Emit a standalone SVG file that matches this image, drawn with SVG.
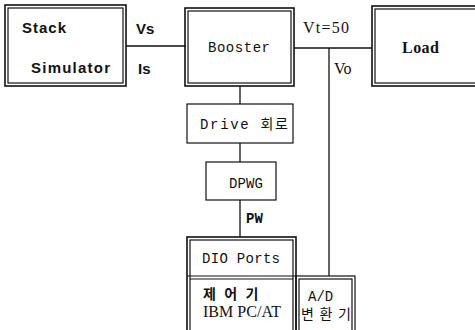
<svg xmlns="http://www.w3.org/2000/svg" width="475" height="330" viewBox="0 0 475 330">
<style>
.b{fill:none;stroke:#111;stroke-width:1.2}
.t{fill:none;stroke:#111;stroke-width:1.6}
.c{fill:none;stroke:#111;stroke-width:1.3}
.sans{font-family:"Liberation Sans",Arial,sans-serif;font-weight:bold;font-size:15px;fill:#111}
.mono{font-family:"Liberation Mono","DejaVu Sans Mono",monospace;font-size:14px;fill:#111}
.serif{font-family:"Liberation Serif","Times New Roman",serif;font-size:16px;fill:#111}
.kr{font-family:"Liberation Mono","Noto Sans CJK KR",monospace;font-size:14px;fill:#111}
</style>
<rect width="475" height="330" fill="#fff"/>
<g id="connectors">
<line class="c" x1="126" y1="46" x2="186" y2="46"/>
<line class="c" x1="294" y1="48" x2="372" y2="48"/>
<line class="c" x1="329" y1="48" x2="329" y2="276"/>
<line class="c" x1="240" y1="86" x2="240" y2="104"/>
<line class="c" x1="240" y1="143" x2="240" y2="162"/>
<line class="c" x1="240" y1="200" x2="240" y2="237"/>
<text class="sans" x="136" y="34" font-size="16">Vs</text>
<text class="sans" x="138" y="74" font-size="16">Is</text>
<text class="serif" x="303" y="33" textLength="46">Vt=50</text>
<text class="serif" x="334" y="74">Vo</text>
<text class="mono" x="246" y="223" font-weight="bold" font-size="12">PW</text>
</g>
<g id="stack">
<rect class="t" x="5" y="5" width="121" height="81"/>
<rect class="b" x="8" y="8" width="115" height="75"/>
<text class="sans" x="22" y="33" textLength="44">Stack</text>
<text class="sans" x="31" y="73" textLength="79">Simulator</text>
</g>
<g id="booster">
<rect class="t" x="185" y="8" width="109" height="78"/>
<rect class="b" x="188" y="11" width="103" height="72"/>
<text class="mono" x="208" y="52" textLength="62">Booster</text>
</g>
<g id="load">
<rect class="t" x="372" y="6" width="110" height="80"/>
<rect class="b" x="375" y="9" width="104" height="74"/>
<text class="serif" x="402" y="53" font-weight="bold" font-size="17" textLength="37">Load</text>
</g>
<g id="drive">
<rect class="b" x="187" y="104" width="106" height="39"/>
<text class="kr" x="200" y="129" textLength="88">Drive 회로</text>
</g>
<g id="dpwg">
<rect class="b" x="206" y="162" width="70" height="38"/>
<text class="mono" x="229" y="188" textLength="34">DPWG</text>
</g>
<g id="controller">
<rect class="t" x="187" y="237" width="109" height="100"/>
<rect class="b" x="190" y="240" width="103" height="94"/>
<line class="b" x1="187" y1="276" x2="296" y2="276"/>
<line class="b" x1="190" y1="279" x2="293" y2="279"/>
<text class="kr" x="202" y="263" font-size="15" textLength="78">DIO Ports</text>
<text class="kr" x="203" y="299" font-weight="bold" font-size="16">제 어 기</text>
<text class="serif" x="203" y="317" font-size="14" textLength="78">IBM PC/AT</text>
</g>
<g id="adc">
<rect class="b" x="296" y="276" width="59" height="60"/>
<rect class="b" x="299" y="279" width="53" height="54"/>
<text class="kr" x="308" y="301">A/D</text>
<text class="kr" x="301" y="319" textLength="50">변환기</text>
</g>
</svg>
